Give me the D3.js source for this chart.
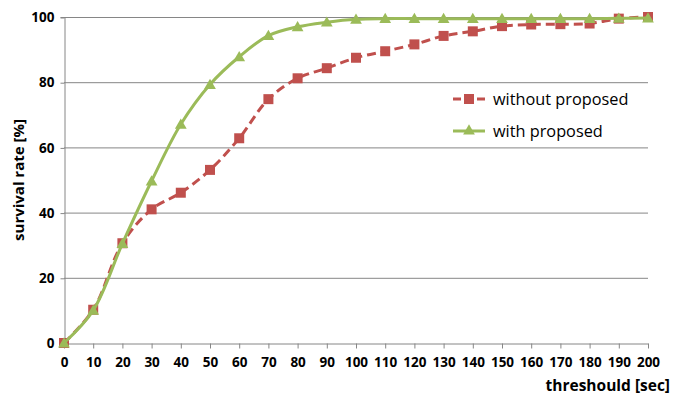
<!DOCTYPE html>
<html>
<head>
<meta charset="utf-8">
<script src="https://cdn.jsdelivr.net/npm/d3@7"></script>
<style>
  body { margin: 0; background: #fff; }
  text { font-family: "Open Sans", sans-serif; }
</style>
</head>
<body>
<div id="chart"></div>
<script>
// data
var thresholds = [0, 10, 20, 30, 40, 50, 60, 70, 80, 90, 100, 110, 120, 130, 140, 150, 160, 170, 180, 190, 200];
var withoutProposed = [0, 10.2, 30.6, 41.0, 46.1, 53.1, 62.8, 74.8, 81.2, 84.3, 87.5, 89.5, 91.6, 94.2, 95.6, 97.2, 97.7, 97.8, 98.0, 99.5, 100];
var withProposed = [0, 10.0, 30.5, 49.7, 67.1, 79.3, 87.8, 94.3, 97.0, 98.4, 99.3, 99.5, 99.5, 99.5, 99.5, 99.5, 99.5, 99.5, 99.5, 99.6, 99.7];
var yTicks = [0, 20, 40, 60, 80, 100];
var seriesNames = ["without proposed", "with proposed"];

var W = 674, H = 401;
var margin = {top: 17, right: 26, bottom: 58, left: 64};
var width = W - margin.left - margin.right,
    height = H - margin.top - margin.bottom;

var svg = d3.select("#chart")
  .append("svg")
  .attr("width", W)
  .attr("height", H)
  .append("g")
  .attr("transform", "translate(" + margin.left + "," + margin.top + ")");

var x = d3.scaleLinear().domain([0, 200]).range([0, width]);
var y = d3.scaleLinear().domain([0, 100]).range([height, 0]);

var gridColor = "#868686";

// horizontal gridlines
svg.append("g")
  .selectAll("line")
  .data(yTicks.filter(function(d){ return d > 0; }))
  .enter()
  .append("line")
  .attr("x1", 0)
  .attr("x2", width)
  .attr("y1", function(d){ return y(d) + 0.5; })
  .attr("y2", function(d){ return y(d) + 0.5; })
  .attr("stroke", gridColor)
  .attr("stroke-width", 1);

// Y axis
var yAxis = svg.append("g")
  .attr("transform", "translate(0.5,0)")
  .call(d3.axisLeft(y).tickValues(yTicks).tickSize(4).tickPadding(6));
yAxis.select(".domain").attr("stroke", gridColor);
yAxis.selectAll(".tick line").attr("stroke", gridColor).attr("transform", "translate(0,0.5)");
yAxis.selectAll(".tick text")
  .style("font-family", "'Open Sans', sans-serif")
  .style("font-size", "13.5px")
  .style("font-weight", "bold")
  .attr("fill", "#000")
  .attr("dy", "0.35em");

// X axis
var xAxis = svg.append("g")
  .attr("transform", "translate(0," + (height + 0.5) + ")")
  .call(d3.axisBottom(x).tickValues(thresholds).tickSize(5).tickPadding(9).tickSizeOuter(0));
xAxis.select(".domain").attr("stroke", gridColor);
xAxis.selectAll(".tick line").attr("stroke", gridColor);
xAxis.selectAll(".tick text")
  .style("font-family", "'Open Sans', sans-serif")
  .style("font-size", "13.5px")
  .style("font-weight", "bold")
  .attr("fill", "#000");

// axis titles
svg.append("text")
  .attr("x", width + 22)
  .attr("y", height + 48)
  .attr("text-anchor", "end")
  .style("font-size", "15.5px")
  .style("font-weight", "bold")
  .text("threshould [sec]");

svg.append("text")
  .attr("transform", "translate(" + (-40) + "," + (height / 2) + ") rotate(-90)")
  .attr("text-anchor", "middle")
  .style("font-size", "15px")
  .style("font-weight", "bold")
  .text("survival rate [%]");

var red = "#C0504D", green = "#9BBB59";

var line = d3.line()
  .x(function(d){ return x(d[0]); })
  .y(function(d){ return y(d[1]); })
  .curve(d3.curveCatmullRom.alpha(0.5));

var redData = d3.zip(thresholds, withoutProposed);
var greenData = d3.zip(thresholds, withProposed);

// without proposed: dashed red with squares
svg.append("path")
  .datum(redData)
  .attr("d", line)
  .attr("fill", "none")
  .attr("stroke", red)
  .attr("stroke-width", 3)
  .attr("stroke-dasharray", "9,5");

svg.append("g")
  .selectAll("rect")
  .data(redData)
  .enter()
  .append("rect")
  .attr("x", function(d){ return x(d[0]) - 5; })
  .attr("y", function(d){ return y(d[1]) - 5; })
  .attr("width", 10)
  .attr("height", 10)
  .attr("fill", red);

// with proposed: solid green with triangles
svg.append("path")
  .datum(greenData)
  .attr("d", line)
  .attr("fill", "none")
  .attr("stroke", green)
  .attr("stroke-width", 3);

var tri = d3.symbol().type(d3.symbolTriangle).size(60);

svg.append("g")
  .selectAll("path")
  .data(greenData)
  .enter()
  .append("path")
  .attr("d", tri)
  .attr("transform", function(d){ return "translate(" + x(d[0]) + "," + (y(d[1]) + 1) + ")"; })
  .attr("fill", green);

// legend
var legend = svg.append("g")
  .attr("transform", "translate(" + (453 - margin.left) + "," + (99 - margin.top) + ")");

var lg1 = legend.append("g");
lg1.append("line")
  .attr("x1", 0).attr("x2", 32).attr("y1", 0).attr("y2", 0)
  .attr("stroke", red).attr("stroke-width", 3).attr("stroke-dasharray", "8,4");
lg1.append("rect")
  .attr("x", 11).attr("y", -5).attr("width", 10).attr("height", 10)
  .attr("fill", red);
lg1.append("text")
  .attr("x", 40).attr("y", 6)
  .style("font-size", "16.3px")
  .text(seriesNames[0]);

var lg2 = legend.append("g").attr("transform", "translate(0,32)");
lg2.append("line")
  .attr("x1", 0).attr("x2", 32).attr("y1", 0).attr("y2", 0)
  .attr("stroke", green).attr("stroke-width", 3);
lg2.append("path")
  .attr("d", tri)
  .attr("transform", "translate(16,0)")
  .attr("fill", green);
lg2.append("text")
  .attr("x", 40).attr("y", 6)
  .style("font-size", "16.3px")
  .text(seriesNames[1]);
</script>
</body>
</html>
